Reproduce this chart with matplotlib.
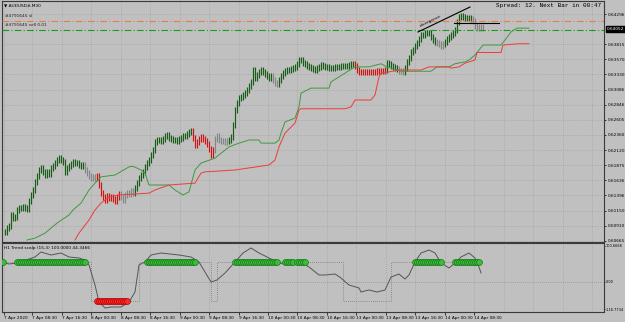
import matplotlib
matplotlib.use('Agg')
import matplotlib.pyplot as plt
import matplotlib.transforms as mtransforms

# ---------------- data ----------------
closes = [
    0.6081, 0.6087, 0.6090, 0.6108, 0.6103, 0.6105, 0.6116, 0.6119, 0.6119, 0.6121,
    0.6119, 0.6118, 0.6130, 0.6140, 0.6148, 0.6161, 0.6170, 0.6180, 0.6183, 0.6177,
    0.6172, 0.6177, 0.6174, 0.6183, 0.6186, 0.6191, 0.6196, 0.6199, 0.6196, 0.6193,
    0.6177, 0.6183, 0.6186, 0.6190, 0.6193, 0.6191, 0.6191, 0.6188, 0.6186, 0.6188,
    0.6180, 0.6175, 0.6170, 0.6167, 0.6169, 0.6167, 0.6170, 0.6156, 0.6143, 0.6137,
    0.6132, 0.6138, 0.6135, 0.6137, 0.6134, 0.6130, 0.6137, 0.6142, 0.6137, 0.6132,
    0.6140, 0.6143, 0.6142, 0.6146, 0.6143, 0.6151, 0.6159, 0.6167, 0.6172, 0.6177,
    0.6185, 0.6191, 0.6196, 0.6204, 0.6212, 0.6225, 0.6228, 0.6228, 0.6226, 0.6230,
    0.6234, 0.6236, 0.6231, 0.6230, 0.6228, 0.6228, 0.6226, 0.6230, 0.6231, 0.6234,
    0.6234, 0.6238, 0.6241, 0.6242, 0.6231, 0.6220, 0.6225, 0.6230, 0.6233, 0.6230,
    0.6226, 0.6222, 0.6214, 0.6204, 0.6212, 0.6230, 0.6234, 0.6228, 0.6226, 0.6226,
    0.6225, 0.6226, 0.6228, 0.6233, 0.6252, 0.6276, 0.6287, 0.6295, 0.6297, 0.6300,
    0.6303, 0.6308, 0.6314, 0.6321, 0.6340, 0.6327, 0.6332, 0.6337, 0.6340, 0.6337,
    0.6334, 0.6330, 0.6327, 0.6330, 0.6324, 0.6319, 0.6318, 0.6324, 0.6330, 0.6335,
    0.6338, 0.6340, 0.6340, 0.6342, 0.6343, 0.6345, 0.6350, 0.6356, 0.6356, 0.6351,
    0.6350, 0.6346, 0.6345, 0.6343, 0.6342, 0.6340, 0.6343, 0.6345, 0.6348, 0.6346,
    0.6345, 0.6345, 0.6343, 0.6343, 0.6343, 0.6345, 0.6345, 0.6345, 0.6346, 0.6346,
    0.6346, 0.6346, 0.6348, 0.6350, 0.6350, 0.6346, 0.6340, 0.6337, 0.6337, 0.6337,
    0.6337, 0.6337, 0.6337, 0.6337, 0.6337, 0.6337, 0.6338, 0.6338, 0.6338, 0.6338,
    0.6340, 0.6351, 0.6350, 0.6346, 0.6345, 0.6343, 0.6342, 0.6338, 0.6338, 0.6337,
    0.6343, 0.6353, 0.6359, 0.6369, 0.6372, 0.6378, 0.6383, 0.6390, 0.6396, 0.6396,
    0.6399, 0.6399, 0.6399, 0.6393, 0.6388, 0.6385, 0.6383, 0.6382, 0.6378, 0.6382,
    0.6385, 0.6390, 0.6393, 0.6396, 0.6399, 0.6404, 0.6417, 0.6425, 0.6426, 0.6425,
    0.6423, 0.6423, 0.6423, 0.6422, 0.6418, 0.6410, 0.6407, 0.6409, 0.6407, 0.6409,
]
bar_color_runs = [(40, 'up'), (6, 'flat'), (12, 'down'), (7, 'flat'), (29, 'up'),
                  (11, 'down'), (7, 'flat'), (22, 'up'), (3, 'flat'), (38, 'up'),
                  (16, 'down'), (6, 'up'), (3, 'flat'), (16, 'up'), (4, 'flat'),
                  (14, 'up'), (6, 'flat')]

green_line_idx = [11, 15, 20, 26, 32, 34, 38, 42, 45, 48, 55, 62, 64, 68, 70, 72, 82, 85,
                  89, 92, 95, 98, 105, 112, 117, 122, 127, 128, 135, 137, 138, 140, 145,
                  147, 148, 153, 162, 163, 170, 175, 182, 188, 191, 198, 213, 216, 222,
                  225, 230, 232, 235, 239, 248, 250, 253, 256, 262]
green_line_val = [0.6068, 0.6071, 0.6079, 0.6095, 0.6108, 0.6116, 0.6127, 0.6148, 0.6159,
                  0.6169, 0.6172, 0.6185, 0.6186, 0.6180, 0.6175, 0.6156, 0.6156, 0.6148,
                  0.6140, 0.6145, 0.6180, 0.6191, 0.6199, 0.6217, 0.6223, 0.6228, 0.6228,
                  0.6223, 0.6223, 0.6228, 0.6239, 0.6257, 0.6263, 0.6281, 0.6303, 0.6311,
                  0.6311, 0.6321, 0.6335, 0.6345, 0.6345, 0.6350, 0.6345, 0.6338, 0.6338,
                  0.6345, 0.6345, 0.6350, 0.6353, 0.6356, 0.6364, 0.6380, 0.6380, 0.6388,
                  0.6401, 0.6407, 0.6407]

red_line_idx = [35, 37, 42, 45, 48, 52, 57, 72, 75, 82, 95, 98, 100, 115, 132, 135, 137,
                140, 145, 147, 148, 170, 173, 175, 183, 185, 187, 188, 192, 197, 208, 212,
                222, 223, 227, 230, 235, 236, 248, 249, 257, 262]
red_line_val = [0.6068, 0.6079, 0.6100, 0.6116, 0.6127, 0.6137, 0.6140, 0.6143, 0.6148,
                0.6156, 0.6159, 0.6175, 0.6177, 0.6180, 0.6188, 0.6196, 0.6217, 0.6239,
                0.6255, 0.6276, 0.6278, 0.6278, 0.6281, 0.6292, 0.6292, 0.6300, 0.6329,
                0.6335, 0.6337, 0.6340, 0.6340, 0.6345, 0.6345, 0.6343, 0.6345, 0.6351,
                0.6356, 0.6368, 0.6368, 0.6380, 0.6382, 0.6382]

sl_price = 0.6419
sell_price = 0.6404
bid_price = 0.64052
bid_label = "0.64052"

divergence_line_idx = [206.5, 232.5]
divergence_line_val = [0.64008, 0.64408]
resistance_idx = [224.5, 247]
resistance_val = [0.64152, 0.64152]

price_ticks = [0.64296, 0.63815, 0.63570, 0.63330, 0.63086, 0.62846, 0.62605, 0.62360,
               0.62120, 0.61875, 0.61636, 0.61396, 0.61150, 0.60910, 0.60665]
price_tick_labels = ["0.64296", "0.63815", "0.63570", "0.63330", "0.63086", "0.62846",
                     "0.62605", "0.62360", "0.62120", "0.61875", "0.61636", "0.61396",
                     "0.61150", "0.60910", "0.60665"]

time_tick_idx = [-0.5, 13.5, 28.5, 43, 58, 72.5, 87.5, 102, 117, 131.5, 146, 161, 175.5,
                 190.5, 205, 220, 234.5]
time_tick_labels = ["7 Apr 2020", "7 Apr 08:30", "7 Apr 16:30", "8 Apr 00:30",
                    "8 Apr 08:30", "8 Apr 16:30", "9 Apr 00:30", "9 Apr 08:30",
                    "9 Apr 16:30", "10 Apr 00:30", "10 Apr 08:30", "10 Apr 16:30",
                    "13 Apr 00:30", "13 Apr 08:30", "13 Apr 16:30", "14 Apr 00:30",
                    "14 Apr 08:30"]
extra_grid_idx = [249.5, 264, 279, 293.5]

# indicator
ind_idx = [0, 2, 6, 15, 18, 23, 28, 32, 37, 40, 42, 45, 47, 50, 53, 58, 62, 65, 67, 70,
           73, 78, 87, 93, 97, 100, 103, 106, 110, 115, 119, 123, 127, 132, 136, 139, 145,
           148, 152, 157, 160, 165, 168, 172, 177, 178, 182, 186, 190, 193, 197, 200, 202,
           205, 208, 212, 215, 218, 222, 225, 228, 232, 235, 237, 238]
ind_val = [51.8, 49.0, 51.8, 68.6, 82.6, 74.2, 79.8, 68.6, 65.8, 60.2, 46.2, -9.8, -57.4,
           -74.2, -71.4, -71.4, -57.4, -29.4, 46.2, 54.6, 74.2, 79.8, 74.2, 68.6, 54.6,
           26.6, -1.4, 4.2, 23.8, 54.6, 79.8, 93.8, 79.8, 65.8, 54.6, 49.0, 49.0, 54.6,
           40.6, 18.2, 18.2, 21.0, 9.8, -9.8, -18.2, -29.4, -23.8, -29.4, -23.8, 12.6,
           21.0, 7.0, 18.2, 54.6, 79.8, 88.2, 79.8, 51.8, 37.8, 51.8, 68.6, 79.8, 65.8,
           40.6, 23.8]
step_edges = [0, 43, 67, 103, 106, 169, 193, 239]
step_vals = [54.6, -54.6, 54.6, -54.6, 54.6, -54.6, 54.6]
up_ranges = [(-1, -1), (6, 40), (71, 95), (115, 136), (140, 144), (146, 150), (205, 218),
             (225, 237)]
down_ranges = [(46, 61)]
ind_ticks = [100.6668, 0.0, -78.0]
ind_tick_labels = ["100.6668", "0.00", "-116.7734"]
ind_title = "H1 Trend scalp (15,3) 100.0000 44.3466"

# ---------------- style ----------------
BG = '#c0c0c0'
GRID = '#999999'
SPINE = '#3a3a3a'
bar_colors = {'up': '#175c17', 'down': '#d01414', 'flat': '#858585'}
W, H = 625, 322
FS = 3.1

plt.rcParams['font.family'] = ['DejaVu Sans']

fig = plt.figure(figsize=(W / 100, H / 100), dpi=100, facecolor=BG)
ax = fig.add_axes([2 / W, (H - 242) / H, 602 / W, 241 / H], facecolor=BG)
ax2 = fig.add_axes([2 / W, (H - 312) / H, 602 / W, 69 / H], facecolor=BG)

xmin, xmax = -1.5, 299.5
for a in (ax, ax2):
    a.set_xlim(xmin, xmax)
    for s in a.spines.values():
        s.set_color(SPINE)
        s.set_linewidth(0.8)
    for gx in time_tick_idx + extra_grid_idx:
        a.axvline(gx, color=GRID, lw=0.5, ls=(0, (1, 2)), zorder=0)

ax.set_ylim(0.60648, 0.64504)

for p in price_ticks:
    ax.axhline(p, color=GRID, lw=0.5, ls=(0, (1, 2)), zorder=0)

# bars
colors = []
for n, c in bar_color_runs:
    colors += [bar_colors[c]] * n
opens = [closes[0]] + closes[:-1]
wick = 0.0005
idx = list(range(len(closes)))
highs = [max(o, c) + wick for o, c in zip(opens, closes)]
lows = [min(o, c) - wick for o, c in zip(opens, closes)]
ax.vlines(idx, lows, highs, colors=colors, lw=0.85, zorder=2)

# trailing lines
ax.plot(green_line_idx, green_line_val, color='#3d9a3d', lw=0.7, zorder=3)
ax.plot(red_line_idx, red_line_val, color='#f03a3a', lw=0.7, zorder=3)

# order lines
ax.axhline(sl_price, color='#f07850', lw=0.8, ls=(0, (6, 2, 1, 2)), zorder=3)
ax.axhline(sell_price, color='#1f9a1f', lw=0.8, ls=(0, (6, 2, 1, 2)), zorder=3)
trans = mtransforms.blended_transform_factory(ax.transAxes, ax.transData)
ax.text(0.005, sl_price + 0.00045, "#4791645 sl", transform=trans, fontsize=FS,
        color='#202020', va='bottom', ha='left')
ax.text(0.005, sell_price + 0.00045, "#4791645 sell 0.01", transform=trans, fontsize=FS,
        color='#202020', va='bottom', ha='left')

# divergence annotation
ax.plot(divergence_line_idx, divergence_line_val, color='black', lw=0.8, zorder=4)
ax.plot(resistance_idx, resistance_val, color='black', lw=0.8, zorder=4)
ax.text(213, 0.64190, "divergence", rotation=26, fontsize=FS, color='black',
        ha='center', va='center', rotation_mode='anchor', zorder=4)

# axes ticks main
ax.yaxis.tick_right()
ax.set_yticks(price_ticks)
ax.set_yticklabels(price_tick_labels)
ax.tick_params(axis='y', labelsize=FS, length=1.5, width=0.5, pad=1, colors='black')
ax.set_xticks(time_tick_idx)
ax.tick_params(axis='x', labelbottom=False, length=0)

# bid box
ax.annotate(bid_label, xy=(1.0, bid_price), xycoords=trans, xytext=(2, 0),
            textcoords='offset points', fontsize=FS, color='white', va='center',
            ha='left', bbox=dict(boxstyle='square,pad=0.25', fc='black', ec='black'))

# header texts
ax.text(0.003, 0.99, "\u25bc AUDUSD#,M30", transform=ax.transAxes, fontsize=FS,
        color='black', va='top', ha='left')
ax.text(0.995, 0.99, "Spread: 12. Next Bar in 00:47", transform=ax.transAxes,
        fontsize=4.3, family='Liberation Mono', color='black', va='top', ha='right')

# ---------------- indicator ----------------
ax2.set_ylim(-85.4, 107.8)
ax2.axhline(0, color='#808080', lw=0.5, ls=(0, (1, 2)), zorder=0)
ax2.step(step_edges, step_vals + [step_vals[-1]], where='post', color='#7a7a7a',
         lw=0.6, ls=(0, (1, 1.5)), zorder=1)
ax2.plot(ind_idx, ind_val, color='#555555', lw=0.7, zorder=2)
for a0, a1 in up_ranges:
    xs = list(range(a0, a1 + 1))
    ax2.plot(xs, [step_vals[0]] * len(xs), ls='none', marker='o', ms=4.2,
             mfc='#3dbb3d', mec='#127a12', mew=0.5, zorder=3)
for a0, a1 in down_ranges:
    xs = list(range(a0, a1 + 1))
    ax2.plot(xs, [step_vals[1]] * len(xs), ls='none', marker='o', ms=4.2,
             mfc='#ff2a2a', mec='#b00000', mew=0.5, zorder=3)
ax2.text(0.003, 0.95, ind_title, transform=ax2.transAxes, fontsize=FS, color='black',
         va='top', ha='left')
ax2.yaxis.tick_right()
ax2.set_yticks(ind_ticks)
ax2.set_yticklabels(ind_tick_labels)
ax2.tick_params(axis='y', labelsize=2.5, length=1, width=0.5, pad=0.5, colors='black')
ax2.set_xticks(time_tick_idx)
ax2.set_xticklabels(time_tick_labels, ha='left')
ax2.tick_params(axis='x', labelsize=FS, length=2, width=0.5, pad=1, colors='black')

fig.savefig('out.png', dpi=100, facecolor=BG)
